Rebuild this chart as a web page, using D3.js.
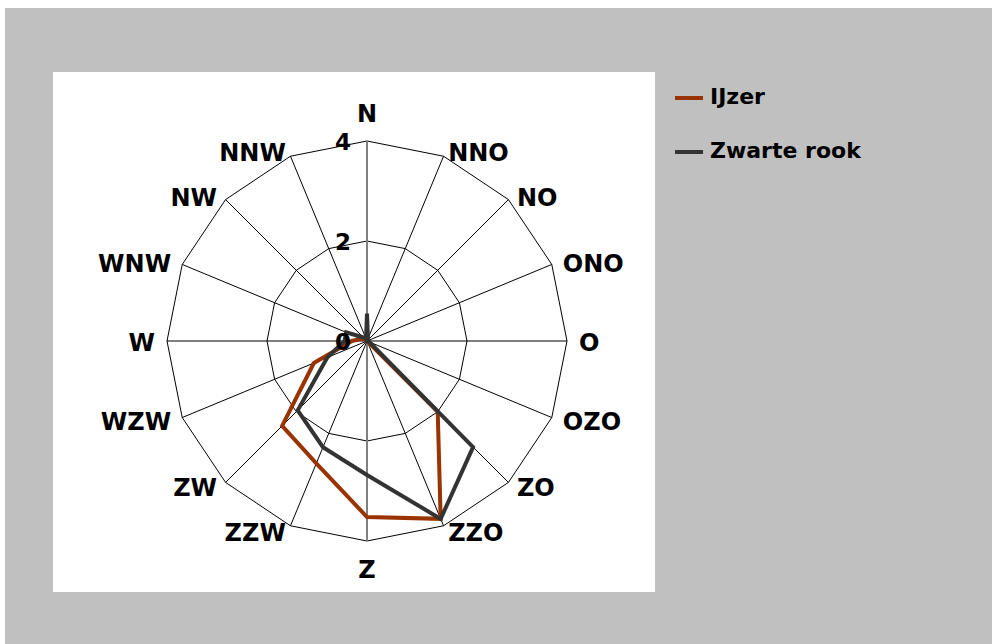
<!DOCTYPE html>
<html>
<head>
<meta charset="utf-8">
<script src="https://cdn.jsdelivr.net/npm/d3@7"></script>
<style>
  html, body { margin: 0; padding: 0; background: #ffffff; }
  svg { display: block; }
  text { font-family: "DejaVu Sans", Verdana, sans-serif; font-weight: bold; fill: #000; }
</style>
</head>
<body>
<svg id="chart" width="992" height="644"></svg>
<script>
// ---- data ----
const directions = ["N","NNO","NO","ONO","O","OZO","ZO","ZZO","Z","ZZW","ZW","WZW","W","WNW","NW","NNW"];
const ijzer      = [0.05, 0, 0, 0, 0, 0, 2.0, 3.85, 3.52, 2.65, 2.4, 1.15, 0.3, 0.12, 0.05, 0];
const zwarteRook = [0.55, 0.05, 0, 0, 0, 0.05, 3.0, 3.85, 2.68, 2.3, 1.96, 0.86, 0.45, 0.45, 0.1, 0.05];
const seriesNames = ["IJzer", "Zwarte rook"];
const seriesColors = ["#993300", "#333333"];
const tickValues = [0, 2, 4];

// ---- layout ----
const svg = d3.select("#chart");
const cx = 367, cy = 341;
const rScale = d3.scaleLinear().domain([0, 4]).range([0, 200]);
const aScale = d3.scalePoint().domain(directions).range([0, 2 * Math.PI * (directions.length - 1) / directions.length]);

svg.append("rect").attr("x", 5).attr("y", 8).attr("width", 987).attr("height", 636).attr("fill", "#c0c0c0");
svg.append("rect").attr("x", 53).attr("y", 72).attr("width", 602).attr("height", 520).attr("fill", "#ffffff");

const g = svg.append("g").attr("transform", `translate(${cx},${cy})`);
const pt = (d, v) => {
  const a = aScale(d);
  return [rScale(v) * Math.sin(a), -rScale(v) * Math.cos(a)];
};

// grid polygons
[2, 4].forEach(v => {
  g.append("path")
    .attr("d", d3.line()(directions.map(d => pt(d, v))) + "Z")
    .attr("fill", "none").attr("stroke", "#000").attr("stroke-width", 1);
});
// spokes
directions.forEach(d => {
  const p = pt(d, 4);
  const vertical = d === "N" || d === "Z";
  g.append("line").attr("x1", 0).attr("y1", 0).attr("x2", p[0]).attr("y2", p[1])
    .attr("stroke", vertical ? "#808080" : "#000")
    .attr("stroke-width", vertical ? 2 : 1);
});

// data lines
[ijzer, zwarteRook].forEach((vals, i) => {
  const line = d3.lineRadial().angle((v, j) => aScale(directions[j])).radius(v => rScale(v)).curve(d3.curveLinearClosed);
  g.append("path").attr("d", line(vals))
    .attr("fill", "none").attr("stroke", seriesColors[i]).attr("stroke-width", 4)
    .attr("stroke-linejoin", "miter");
});

// tick labels
tickValues.forEach(v => {
  g.append("text").attr("x", -16).attr("y", -rScale(v) + 2)
    .attr("text-anchor", "end").attr("dominant-baseline", "middle")
    .style("font-size", "23px").text(v);
});

// direction labels
directions.forEach(d => {
  const a = aScale(d);
  const s = Math.sin(a), c = Math.cos(a);
  const p = pt(d, 4);
  const t = g.append("text").style("font-size", "24px").attr("dominant-baseline", "middle").text(d);
  if (Math.abs(s) < 0.1) {
    t.attr("text-anchor", "middle").attr("x", p[0]).attr("y", p[1] + (c > 0 ? -26 : 30));
  } else {
    const gap = 12 * Math.abs(s);
    t.attr("text-anchor", s > 0 ? "start" : "end")
     .attr("x", p[0] + (s > 0 ? gap : -gap))
     .attr("y", p[1] + 3 - 5.5 * c);
  }
});

// legend
const legend = svg.append("g");
seriesNames.forEach((name, i) => {
  const y = 98 + i * 54;
  legend.append("line").attr("x1", 675).attr("x2", 703).attr("y1", y).attr("y2", y)
    .attr("stroke", seriesColors[i]).attr("stroke-width", 4);
  legend.append("text").attr("x", 710).attr("y", y).attr("dominant-baseline", "middle")
    .style("font-size", "22px").text(name);
});
</script>
</body>
</html>
